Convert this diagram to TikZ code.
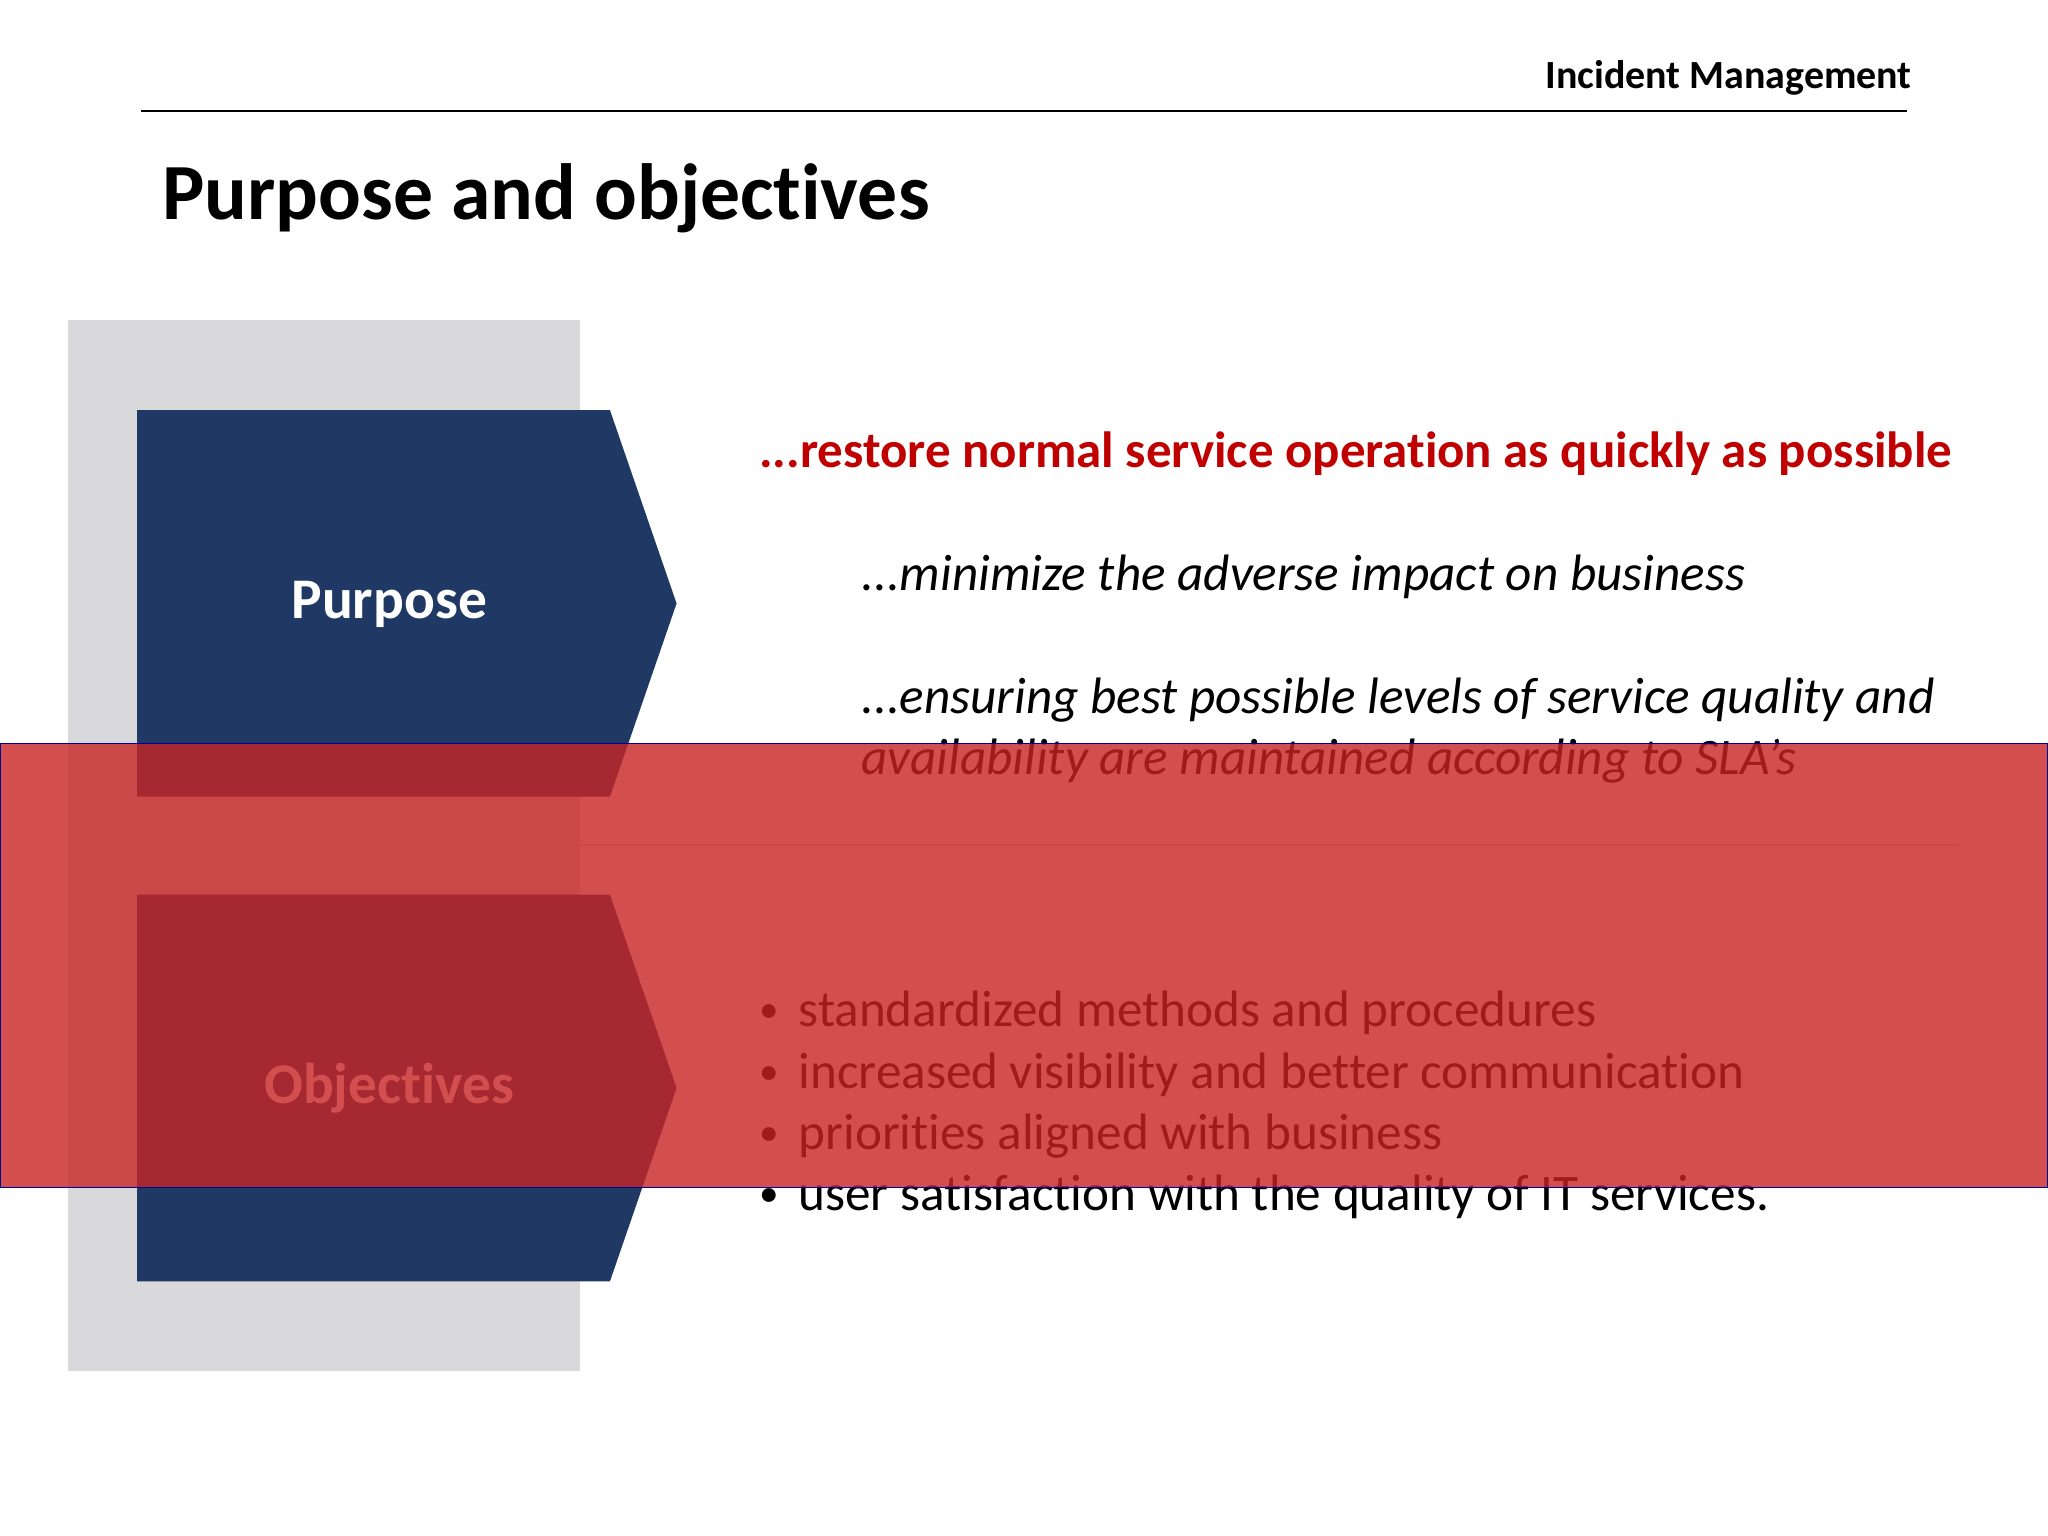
\documentclass[tikz,border=0pt]{standalone}
\usepackage{fontspec}
\setmainfont{Carlito}[Ligatures={NoCommon}]
\definecolor{navy}{HTML}{203864}
\definecolor{grayband}{HTML}{D9D8DA}
\definecolor{redtxt}{HTML}{C00000}
\definecolor{ovred}{RGB}{200,36,36}
\tikzset{
  chev/.style={fill=navy,draw=none},
  lbl/.style={text=white,font=\fontsize{22}{26}\selectfont\bfseries},
  body/.style={anchor=base west,inner sep=0pt,font=\fontsize{19.6}{24}\selectfont},
}
\begin{document}
\begin{tikzpicture}[x=0.5pt,y=-0.5pt]
\useasboundingbox (0,0) rectangle (1568,1176);
\fill[white] (0,0) rectangle (1568,1176);
\node[anchor=base east,inner sep=0pt,font=\fontsize{15.3}{17}\selectfont\bfseries] (hdr) at (1464,68) {Incident Management};
\draw[line width=0.7pt] (108,85) coordinate (l1) -- (1460,85) coordinate (l2);
\node[anchor=base west,inner sep=0pt,font=\fontsize{30.5}{36}\selectfont\bfseries] (title) at (124,168) {Purpose and objectives};
\fill[grayband] (52,245) rectangle (444,1050);
\fill[chev] (105,314) -- (467,314) -- (518,462) -- (467,610) -- (105,610) -- cycle;
\node[lbl] (purp) at (298,463) {Purpose};
\fill[chev] (105,685) -- (467,685) -- (518,833) -- (467,981) -- (105,981) -- cycle;
\node[lbl] (obj) at (298,833) {Objectives};
\node[body,text=redtxt,font=\fontsize{19.5}{24}\selectfont\bfseries] (t1) at (581,358) {...restore normal service operation as quickly as possible};
\node[body,font=\fontsize{19.6}{24}\selectfont\itshape] (t2) at (659,452) {...minimize the adverse impact on business};
\node[body,font=\fontsize{19.6}{24}\selectfont\itshape] (t3) at (659,546) {...ensuring best possible levels of service quality and};
\node[body,font=\fontsize{19.6}{24}\selectfont\itshape] (t4) at (659,593) {availability are maintained according to SLA’s};
\draw[black!15,line width=0.5pt] (444,647) -- (1500,647);
\foreach \y/\t in {786/standardized methods and procedures,833/increased visibility and better communication,880/priorities aligned with business,927/user satisfaction with the quality of IT services.}{
  \node[body,font=\fontsize{15}{18}\selectfont] at (581,\y-3) {•};
  \node[body] at (611,\y) {\t};
}
\fill[ovred,opacity=0.8] (0,569) rectangle (1568,909);
\draw[blue!60!black,line width=0.5pt] (0,569) rectangle (1568,909);
\end{tikzpicture}
\end{document}
